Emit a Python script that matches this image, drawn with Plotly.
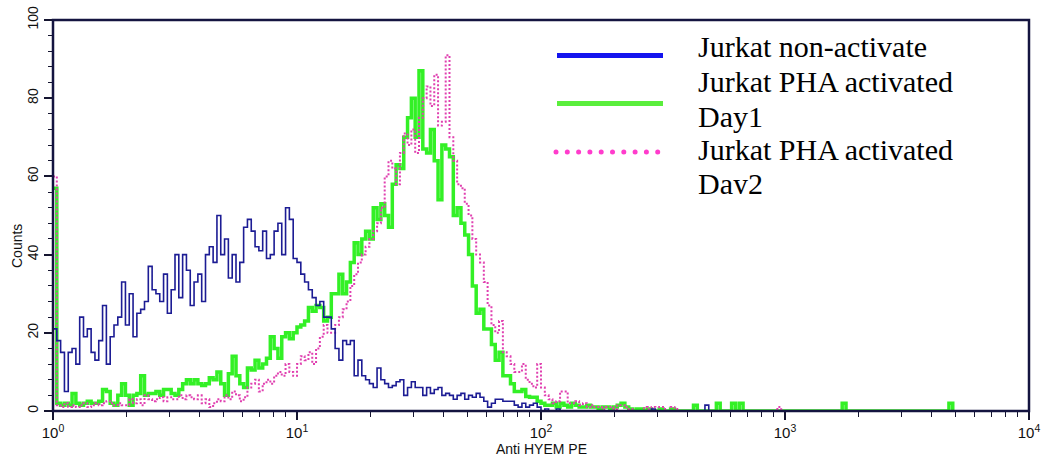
import plotly.graph_objects as go

# Histogram bins: 4 log decades (10^0 .. 10^4), 64 bins per decade
BINS_PER_DECADE = 64

# Counts per bin, Jurkat non-activated
non_activated = [
    21, 18, 15, 5, 15, 16, 12, 24, 19, 21,
    15, 13, 18, 27, 12, 19, 22, 24, 33, 22,
    30, 19, 25, 26, 28, 37, 31, 30, 28, 35,
    25, 31, 40, 29, 40, 36, 27, 33, 35, 28,
    40, 42, 38, 50, 40, 44, 34, 40, 33, 38,
    47, 49, 46, 42, 41, 46, 39, 40, 46, 48,
    40, 52, 49, 39, 38, 35, 33, 31, 29, 27,
    28, 24, 24, 21, 16, 13, 18, 17, 18, 9,
    13, 9, 8, 7, 6, 11, 8, 7, 6, 6.5,
    7.5, 8, 4, 6, 7.5, 6, 6, 4, 6, 4.5,
    5.5, 6, 4, 4.5, 4, 3, 4, 4.5, 3, 4,
    3.5, 4.5, 3.5, 2.5, 1, 2, 3, 3, 2.5, 2.5,
    2.5, 1.5, 1, 2, 1, 1.5, 2, 1, 0, 0.5,
    0, 0, 0.5, 0, 0, 0, 0, 0, 0, 0,
    0, 0, 0, 0, 0, 0, 0, 0, 0, 0,
    0, 0, 0, 0, 0, 0, 0, 0.5, 0, 0,
    0, 0, 0, 0, 0, 0, 0, 0, 0, 0,
    0, 1.5, 0,
]

# Counts per bin, Jurkat PHA activated Day1
pha_day1 = [
    57, 2, 1.5, 2, 1.5, 4.5, 2, 1.5, 2, 2.5,
    2, 2, 2.5, 5.5, 5, 2, 1.5, 4, 7, 4,
    1.5, 4, 4.5, 9, 4, 4.5, 4.5, 5, 4, 5.5,
    5.5, 4.5, 4, 5.5, 7, 8, 7, 8, 7, 6.5,
    7, 8.5, 8, 10, 7, 4, 9.5, 14, 9, 7,
    6, 11, 10.5, 13, 11, 12, 13.5, 19, 16, 13.5,
    19, 20, 18.5, 20, 21.5, 22, 23, 26.5, 25.5, 27,
    26.5, 23, 24, 30, 30, 35, 30, 33, 38, 43,
    40, 44, 46, 44, 52, 49, 53, 50, 47, 58,
    63, 62, 70, 75, 80, 70, 87, 67, 66, 72,
    64, 54, 68, 67, 65, 50, 52, 48, 45, 40,
    32, 25, 26, 21, 21, 17, 13, 15, 9, 9,
    7, 5, 5, 5.5, 3.7, 3.5, 3.5, 2.5, 2, 1.5,
    1.5, 2, 1, 2, 1.5, 1, 2, 1.5, 1, 1,
    1.5, 1, 1, 0.5, 1, 1, 0.5, 1, 1.5, 2,
    1, 0.5, 0, 0.5, 0.5, 0, 0.5, 0, 0, 0.5,
    0, 0, 0.5, 0, 0, 0, 0, 0, 1.5, 0,
    0, 0, 0, 0, 2, 0, 0, 0, 2, 0,
    2, 0, 0, 0, 0, 0, 0, 0, 0, 0,
    0, 0, 0, 0, 0, 0, 0, 0, 0, 0,
    0, 0, 0, 0, 0, 0, 0, 2, 0, 0,
    0, 0, 0, 0, 0, 0, 0, 0, 0, 0,
    0, 0, 0, 0, 0, 0, 0, 0, 0, 0,
    0, 0, 0, 0, 0, 2, 0,
]

# Counts per bin, Jurkat PHA activated Day2
pha_day2 = [
    60, 1.5, 1, 2, 1, 1.5, 1, 1.5, 2, 1,
    1.5, 2, 1.5, 2, 2.5, 2, 1.5, 2, 1.5, 1.5,
    3, 2, 3, 1.5, 4, 3, 2.5, 3, 3.5, 2.5,
    3.5, 3, 3, 4, 3, 4, 3.5, 3, 4, 2,
    3, 1, 2, 3, 2.5, 4, 3, 5, 4, 2.5,
    3.5, 6, 7, 8, 5, 7, 8, 7, 9, 10,
    9, 12, 10, 9, 12, 14, 13, 15, 12, 16,
    19, 22, 20, 20, 22, 24, 26, 28, 32, 35,
    38, 40, 42, 44, 46, 48, 52, 60, 64, 62,
    58, 66, 71, 68, 72, 66, 75, 80, 83, 78,
    86, 73, 74, 91, 70, 64, 58, 57, 53, 50,
    44, 40, 38, 33, 27, 22, 20, 23, 15, 14,
    12, 10, 10, 12, 8, 7, 6, 12, 6, 4,
    3, 2, 2.5, 5, 5, 2, 2, 2.5, 1.5, 2,
    1, 1.5, 1, 1, 0.5, 1, 1, 0.5, 1.5, 1.5,
    1, 0.5, 0, 0, 0, 1, 0.5, 1, 0, 1,
    0.5, 0, 1, 0.5, 0, 0, 0, 0, 0, 0,
    0, 0, 0, 0, 0, 0, 0, 0, 0, 0,
    0, 0, 0, 0, 0, 0, 0, 0, 0, 0,
    1, 0,
]

series_names = [
    "Jurkat non-activate",
    "Jurkat PHA activated Day1",
    "Jurkat PHA activated Day2",
]
legend_lines = [
    "Jurkat non-activate",
    "Jurkat PHA activated",
    "Day1",
    "Jurkat PHA activated",
    "Day2",
]
x_tick_values = [1, 10, 100, 1000, 10000]
x_tick_labels = ["10<sup>0</sup>", "10<sup>1</sup>", "10<sup>2</sup>",
                 "10<sup>3</sup>", "10<sup>4</sup>"]
y_tick_values = [0, 20, 40, 60, 80, 100]
x_title = "Anti HYEM PE"
y_title = "Counts"

# page geometry (pixels)
W, H = 1044, 458
PL, PR, PT, PB = 53, 1029, 20, 411
PW, PH = PR - PL, PB - PT


def px_x(px):
    return (px - PL) / PW


def px_y(py):
    return (PB - py) / PH


def bin_positions(counts):
    return [10 ** (k / BINS_PER_DECADE) for k in range(len(counts))]


fig = go.Figure()

fig.add_trace(go.Scatter(
    x=bin_positions(pha_day1), y=pha_day1, name=series_names[1],
    mode="lines", line=dict(color="#33f026", width=3.5, shape="hv"),
))
fig.add_trace(go.Scatter(
    x=bin_positions(pha_day2), y=pha_day2, name=series_names[2],
    mode="lines", line=dict(color="#e040b0", width=2, shape="hv", dash="2px,2px"),
))
fig.add_trace(go.Scatter(
    x=bin_positions(non_activated), y=non_activated, name=series_names[0],
    mode="lines", line=dict(color="#1c1c94", width=1.6, shape="hv"),
))

minor_x = [m * 10 ** d for d in range(4) for m in range(2, 10)]
tick_font = dict(family="Liberation Sans, Arial, sans-serif", size=14, color="#111111")

fig.update_xaxes(
    type="log", range=[0, 4], showgrid=False, zeroline=False, showline=False,
    automargin=False,
    tickmode="array", tickvals=x_tick_values, ticktext=x_tick_labels,
    ticks="outside", ticklen=8, tickwidth=1.5, tickcolor="#151530",
    minor=dict(tickmode="array", tickvals=minor_x, ticks="outside",
               ticklen=5, tickwidth=1.2, tickcolor="#151530"),
    tickfont=dict(family="Liberation Sans, Arial, sans-serif", size=15, color="#111111"),
)
fig.update_yaxes(
    range=[0, 100], showgrid=False, zeroline=False, showline=False,
    automargin=False,
    tickmode="array", tickvals=y_tick_values, tickangle=-90,
    ticks="outside", ticklen=8, tickwidth=1.5, tickcolor="#151530",
    minor=dict(dtick=4, ticks="outside", ticklen=4, tickwidth=1.2, tickcolor="#151530"),
    tickfont=tick_font,
)

shapes = [
    # plot frame
    dict(type="rect", xref="paper", yref="paper", x0=0, x1=1, y0=0, y1=1,
         line=dict(color="#141440", width=2.5), layer="above"),
    # legend keys
    dict(type="line", xref="paper", yref="paper",
         x0=px_x(557), x1=px_x(663), y0=px_y(55.5), y1=px_y(55.5),
         line=dict(color="#1414ee", width=5)),
    dict(type="line", xref="paper", yref="paper",
         x0=px_x(557), x1=px_x(663), y0=px_y(103.5), y1=px_y(103.5),
         line=dict(color="#5aee3c", width=5)),
]
for i in range(10):
    cx = 556 + i * 11.3
    shapes.append(dict(type="circle", xref="paper", yref="paper",
                       x0=px_x(cx - 2.5), x1=px_x(cx + 2.5),
                       y0=px_y(152 + 2.5), y1=px_y(152 - 2.5),
                       fillcolor="#ff3ccc", line=dict(width=0)))

legend_font = dict(family="Liberation Serif, Times New Roman, serif", size=30, color="#000000")
annotations = []
baselines = [57.5, 92.5, 127, 161, 195.5]
for i, (text, base) in enumerate(zip(legend_lines, baselines)):
    ann = dict(
        xref="paper", yref="paper", x=px_x(696),
        xanchor="left", showarrow=False, text=text, font=legend_font,
    )
    if i == len(legend_lines) - 1:
        # last row sits at the bottom edge of the legend panel and is cut there
        ann.update(y=px_y(base - 31), yanchor="top", valign="top", height=27)
    else:
        ann.update(y=px_y(base - 11), yanchor="middle")
    annotations.append(ann)

annotations.append(dict(
    xref="paper", yref="paper", x=px_x(541), y=px_y(449), xanchor="center", yanchor="middle",
    showarrow=False, text=x_title,
    font=dict(family="Liberation Sans, Arial, sans-serif", size=14, color="#111111"),
))
annotations.append(dict(
    xref="paper", yref="paper", x=px_x(17), y=px_y(246), xanchor="center", yanchor="middle",
    showarrow=False, text=y_title, textangle=-90,
    font=dict(family="Liberation Sans, Arial, sans-serif", size=14, color="#111111"),
))

fig.update_layout(
    width=W, height=H,
    margin=dict(l=PL, r=W - PR, t=PT, b=H - PB, pad=0, autoexpand=False),
    paper_bgcolor="#ffffff", plot_bgcolor="#ffffff",
    showlegend=False, shapes=shapes, annotations=annotations,
)

fig.write_html("out.html")
